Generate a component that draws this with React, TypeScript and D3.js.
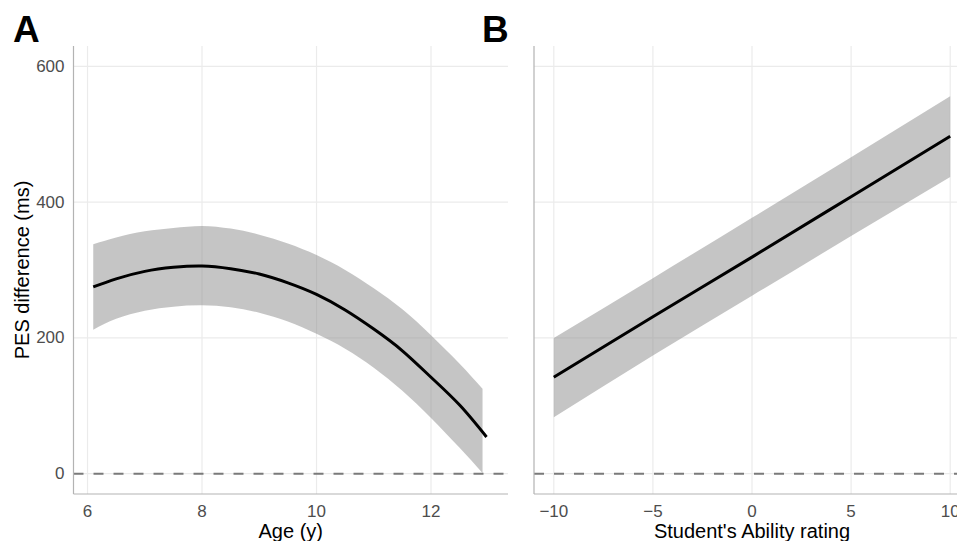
import { useMemo } from "react";
import * as d3 from "d3";

// Panel A: fitted PES difference by age, with confidence band
const AGE = [6.1, 6.5, 7, 7.5, 8, 8.5, 9, 9.5, 10, 10.5, 11, 11.5, 12, 12.5, 12.97];
const AGE_FIT = [275, 287, 298, 304, 306, 302, 294, 281, 264, 241, 213, 181, 142, 101, 54];
const AGE_BAND = [6.1, 6.5, 7, 7.5, 8, 8.5, 9, 9.5, 10, 10.5, 11, 11.5, 12, 12.5, 12.9];
const AGE_UPPER = [338, 348, 357, 362, 365, 361, 352, 339, 322, 300, 273, 242, 204, 162, 125];
const AGE_LOWER = [212, 228, 240, 246, 248, 245, 237, 224, 206, 184, 156, 122, 82, 38, 1];

// Panel B: fitted PES difference by student's ability rating
const ABILITY = [-10, -5, 0, 5, 10];
const ABILITY_FIT = [142, 231, 319, 408, 497];
const ABILITY_UPPER = [200, 288, 377, 466, 556];
const ABILITY_LOWER = [83, 174, 262, 350, 437];

const Y_TICKS = [0, 200, 400, 600];
const AGE_TICKS = [6, 8, 10, 12];
const ABILITY_TICKS = [-10, -5, 0, 5, 10];

const FONT = "'Liberation Sans', Arial, Helvetica, sans-serif";
const GRID = "#ebebeb";
const AXIS = "#b3b3b3";
const TICK_TEXT = "#4d4d4d";

const W = 957;
const H = 541;
const TOP = 46;
const BOTTOM = 494;

const fmt = (v: number) => (v < 0 ? `\u2212${Math.abs(v)}` : `${v}`);

interface PanelProps {
  x: d3.ScaleLinear<number, number>;
  y: d3.ScaleLinear<number, number>;
  xs: number[];
  fit: number[];
  bandXs: number[];
  upper: number[];
  lower: number[];
  xTicks: number[];
  title: string;
  letter: string;
  letterX: number;
  showYLabels: boolean;
}

function Panel({ x, y, xs, fit, bandXs, upper, lower, xTicks, title, letter, letterX, showYLabels }: PanelProps) {
  const [x0, x1] = x.range();
  const clipId = `clip-${letter}`;

  const band = d3
    .area<number>()
    .x((_, i) => x(bandXs[i]))
    .y0((_, i) => y(lower[i]))
    .y1((_, i) => y(upper[i]))
    .curve(d3.curveNatural);

  const line = d3
    .line<number>()
    .x((_, i) => x(xs[i]))
    .y((d) => y(d))
    .curve(d3.curveNatural);

  return (
    <g>
      <defs>
        <clipPath id={clipId}>
          <rect x={x0} y={TOP} width={x1 - x0} height={BOTTOM - TOP} />
        </clipPath>
      </defs>

      {/* Grid lines */}
      {Y_TICKS.map((t) => (
        <line key={`gy${t}`} x1={x0} x2={x1} y1={y(t)} y2={y(t)} stroke={GRID} strokeWidth={1.2} />
      ))}
      {xTicks.map((t) => (
        <line key={`gx${t}`} x1={x(t)} x2={x(t)} y1={TOP} y2={BOTTOM} stroke={GRID} strokeWidth={1.2} />
      ))}

      <g clipPath={`url(#${clipId})`}>
        {/* Zero reference */}
        <line
          x1={x0}
          x2={x1}
          y1={y(0)}
          y2={y(0)}
          stroke="#7a7a7a"
          strokeWidth={2}
          strokeDasharray="10 10"
        />
        {/* Confidence band */}
        <path d={band(upper) ?? ""} fill="#8c8c8c" fillOpacity={0.5} />
        {/* Fit line */}
        <path d={line(fit) ?? ""} fill="none" stroke="#000" strokeWidth={3} />
      </g>

      {/* Axis lines */}
      <line x1={x0} x2={x0} y1={TOP} y2={BOTTOM} stroke={AXIS} strokeWidth={1.2} />
      <line x1={x0} x2={x1} y1={BOTTOM} y2={BOTTOM} stroke={AXIS} strokeWidth={1.2} />

      {/* Tick labels */}
      {showYLabels &&
        Y_TICKS.map((t) => (
          <text
            key={`ly${t}`}
            x={x0 - 9}
            y={y(t)}
            fill={TICK_TEXT}
            fontSize={17}
            textAnchor="end"
            dominantBaseline="central"
          >
            {t}
          </text>
        ))}
      {xTicks.map((t) => (
        <text key={`lx${t}`} x={x(t)} y={517} fill={TICK_TEXT} fontSize={17} textAnchor="middle">
          {fmt(t)}
        </text>
      ))}

      <text x={(x0 + x1) / 2} y={538} fontSize={20} textAnchor="middle" fill="#000">
        {title}
      </text>

      <text x={letterX} y={42} fontSize={37} fontWeight={700} fill="#000">
        {letter}
      </text>
    </g>
  );
}

export default function App() {
  const y = useMemo(() => d3.scaleLinear().domain([-30, 630]).range([BOTTOM, TOP]), []);
  const xAge = useMemo(() => d3.scaleLinear().domain([5.755, 13.345]).range([73.5, 508]), []);
  const xAbility = useMemo(() => d3.scaleLinear().domain([-11, 11]).range([534, 970]), []);

  return (
    <svg
      width={W}
      height={H}
      style={{ position: "absolute", left: 0, top: 0, background: "#fff", fontFamily: FONT }}
    >
      <rect width={W} height={H} fill="#fff" />
      <Panel
        x={xAge}
        y={y}
        xs={AGE}
        fit={AGE_FIT}
        bandXs={AGE_BAND}
        upper={AGE_UPPER}
        lower={AGE_LOWER}
        xTicks={AGE_TICKS}
        title="Age (y)"
        letter="A"
        letterX={13}
        showYLabels
      />
      <Panel
        x={xAbility}
        y={y}
        xs={ABILITY}
        fit={ABILITY_FIT}
        bandXs={ABILITY}
        upper={ABILITY_UPPER}
        lower={ABILITY_LOWER}
        xTicks={ABILITY_TICKS}
        title="Student's Ability rating"
        letter="B"
        letterX={482}
        showYLabels={false}
      />
      <text
        transform="translate(28.5,270) rotate(-90)"
        fontSize={20}
        textAnchor="middle"
        fill="#000"
      >
        PES difference (ms)
      </text>
    </svg>
  );
}
